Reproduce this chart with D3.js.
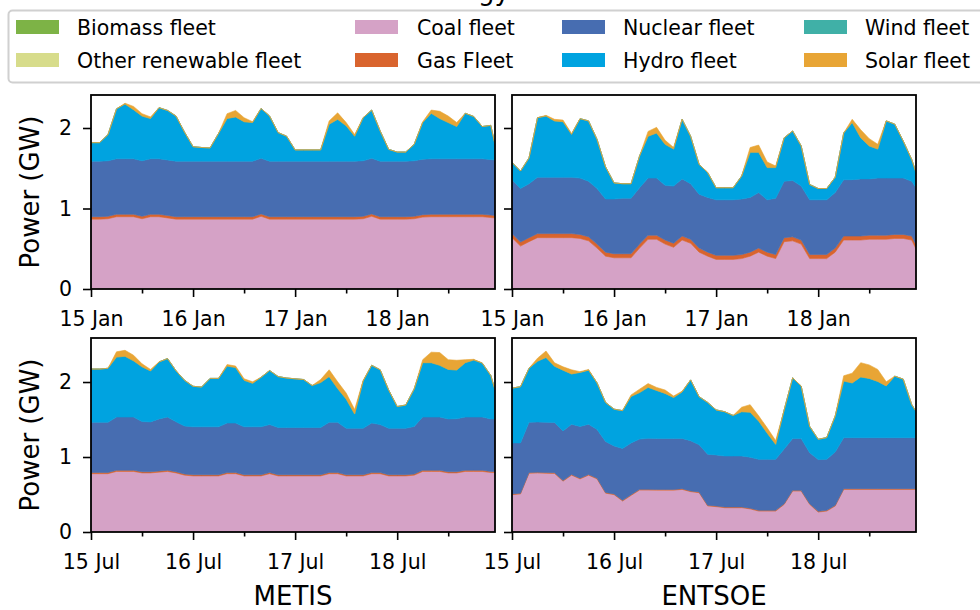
<!DOCTYPE html>
<html>
<head>
<meta charset="utf-8">
<script src="https://cdn.jsdelivr.net/npm/d3@7"></script>
<style>
  body { margin: 0; background: #fff; }
  svg text { font-family: "DejaVu Sans", sans-serif; fill: #000; }
</style>
</head>
<body>
<div id="GraphHolder"></div>
<script>
// hours since the start of each 4-day window
var hours = [0,2,4,6,8,10,12,14,16,18,20,22,
             24,26,28,30,32,34,36,38,40,42,44,46,
             48,50,52,54,56,58,60,62,64,66,68,70,
             72,74,76,78,80,82,84,86,88,90,92,94,95];

var janTicks = ["15 Jan", "16 Jan", "17 Jan", "18 Jan"];
var julTicks = ["15 Jul", "16 Jul", "17 Jul", "18 Jul"];

// fleets that are (almost) empty in every panel
var biomassAll = [0,0,0,0,0,0,0,0,0,0,0,0, 0,0,0,0,0,0,0,0,0,0,0,0, 0,0,0,0,0,0,0,0,0,0,0,0, 0,0,0,0,0,0,0,0,0,0,0,0, 0];
var otherAll = [0.008,0.008,0.008,0.008,0.008,0.008,0.008,0.008,0.008,0.008,0.008,0.008,
                0.008,0.008,0.008,0.008,0.008,0.008,0.008,0.008,0.008,0.008,0.008,0.008,
                0.008,0.008,0.008,0.008,0.008,0.008,0.008,0.008,0.008,0.008,0.008,0.008,
                0.008,0.008,0.008,0.008,0.008,0.008,0.008,0.008,0.008,0.008,0.008,0.008, 0.008];
var windAll = [0,0,0,0,0,0,0,0,0,0,0,0, 0,0,0,0,0,0,0,0,0,0,0,0, 0,0,0,0,0,0,0,0,0,0,0,0, 0,0,0,0,0,0,0,0,0,0,0,0, 0];

// METIS, January (GW)
var coalJanM = [0.86,0.86,0.865,0.89,0.89,0.89,0.865,0.89,0.89,0.875,0.86,0.86,
                0.86,0.86,0.86,0.86,0.86,0.86,0.86,0.86,0.895,0.86,0.86,0.86,
                0.86,0.86,0.86,0.86,0.86,0.86,0.86,0.86,0.865,0.895,0.86,0.86,
                0.86,0.86,0.865,0.885,0.89,0.89,0.89,0.89,0.89,0.89,0.89,0.88, 0.875];
var gasJanM = [0.03,0.03,0.03,0.03,0.03,0.03,0.03,0.03,0.03,0.03,0.03,0.03,
               0.03,0.03,0.03,0.03,0.03,0.03,0.03,0.03,0.03,0.03,0.03,0.03,
               0.03,0.03,0.03,0.03,0.03,0.03,0.03,0.03,0.03,0.03,0.03,0.03,
               0.03,0.03,0.03,0.03,0.03,0.03,0.03,0.03,0.03,0.03,0.03,0.03, 0.03];
var nuclearJanM = [0.69,0.69,0.69,0.69,0.69,0.69,0.69,0.69,0.69,0.69,0.69,0.69,
                   0.69,0.69,0.69,0.69,0.69,0.69,0.69,0.69,0.69,0.69,0.69,0.69,
                   0.69,0.69,0.69,0.69,0.69,0.69,0.69,0.69,0.69,0.69,0.69,0.69,
                   0.69,0.69,0.69,0.69,0.69,0.69,0.69,0.69,0.69,0.69,0.69,0.69, 0.69];
var hydroJanM = [0.23,0.23,0.325,0.62,0.68,0.61,0.555,0.50,0.635,0.615,0.56,0.36,
                 0.18,0.17,0.165,0.345,0.53,0.55,0.49,0.48,0.62,0.56,0.355,0.31,
                 0.14,0.14,0.14,0.14,0.46,0.52,0.44,0.31,0.535,0.60,0.375,0.147,
                 0.113,0.113,0.205,0.455,0.565,0.50,0.45,0.40,0.565,0.525,0.40,0.425, 0.195];
var solarJanM = [0,0,0,0,0.01,0.04,0.03,0.02,0,0,0,0,
                 0,0,0,0,0.06,0.08,0.05,0.01,0,0,0,0,
                 0,0,0,0,0.04,0.08,0.04,0.02,0,0,0,0,
                 0,0,0,0.01,0.04,0.09,0.08,0.05,0,0,0,0, 0];

// ENTSOE, January (GW)
var coalJanE = [0.63,0.525,0.58,0.63,0.63,0.63,0.63,0.63,0.62,0.59,0.50,0.40,
                0.38,0.38,0.38,0.50,0.61,0.61,0.55,0.51,0.60,0.56,0.45,0.40,
                0.36,0.36,0.36,0.37,0.40,0.45,0.40,0.37,0.58,0.59,0.55,0.37,
                0.37,0.37,0.45,0.60,0.60,0.60,0.61,0.61,0.61,0.62,0.62,0.60, 0.49];
var gasJanE = [0.05,0.05,0.05,0.05,0.05,0.05,0.05,0.05,0.05,0.05,0.05,0.05,
               0.05,0.05,0.05,0.05,0.05,0.05,0.05,0.05,0.05,0.05,0.05,0.05,
               0.05,0.05,0.05,0.05,0.05,0.05,0.05,0.05,0.05,0.05,0.05,0.05,
               0.05,0.05,0.05,0.05,0.05,0.05,0.05,0.05,0.05,0.05,0.05,0.05, 0.05];
var nuclearJanE = [0.67,0.665,0.67,0.70,0.70,0.70,0.70,0.70,0.70,0.69,0.69,0.66,
                   0.68,0.69,0.69,0.70,0.71,0.71,0.68,0.71,0.71,0.69,0.67,0.68,
                   0.69,0.69,0.69,0.69,0.68,0.69,0.65,0.70,0.70,0.70,0.67,0.68,
                   0.68,0.68,0.69,0.70,0.70,0.71,0.70,0.71,0.71,0.70,0.70,0.68, 0.71];
var hydroJanE = [0.215,0.217,0.32,0.74,0.76,0.70,0.69,0.533,0.738,0.75,0.61,0.40,
                 0.20,0.18,0.18,0.395,0.52,0.56,0.51,0.46,0.74,0.59,0.37,0.31,
                 0.15,0.15,0.15,0.285,0.56,0.50,0.40,0.38,0.54,0.615,0.50,0.19,
                 0.14,0.14,0.19,0.58,0.71,0.51,0.41,0.36,0.71,0.67,0.46,0.27, 0.19];
var solarJanE = [0,0,0,0,0.01,0.02,0.02,0.01,0,0,0,0,
                 0,0,0,0,0.06,0.07,0.05,0.02,0,0,0,0,
                 0,0,0,0,0.06,0.09,0.07,0.02,0,0,0,0,
                 0,0,0,0,0.04,0.10,0.09,0.06,0,0,0,0, 0];

// METIS, July (GW)
var coalJulM = [0.77,0.77,0.77,0.80,0.80,0.80,0.78,0.78,0.79,0.80,0.78,0.75,
                0.74,0.74,0.74,0.74,0.77,0.77,0.74,0.74,0.74,0.77,0.74,0.74,
                0.74,0.74,0.74,0.74,0.77,0.77,0.74,0.74,0.74,0.77,0.77,0.74,
                0.74,0.74,0.75,0.80,0.80,0.80,0.78,0.78,0.80,0.80,0.80,0.785, 0.785];
var gasJulM = [0.015,0.015,0.015,0.015,0.015,0.015,0.015,0.015,0.015,0.015,0.015,0.015,
               0.015,0.015,0.015,0.015,0.015,0.015,0.015,0.015,0.015,0.015,0.015,0.015,
               0.015,0.015,0.015,0.015,0.015,0.015,0.015,0.015,0.015,0.015,0.015,0.015,
               0.015,0.015,0.015,0.015,0.015,0.015,0.015,0.015,0.015,0.015,0.015,0.015, 0.015];
var nuclearJulM = [0.67,0.67,0.67,0.71,0.71,0.71,0.67,0.665,0.695,0.71,0.667,0.64,
                   0.64,0.64,0.64,0.64,0.66,0.66,0.64,0.64,0.64,0.64,0.63,0.63,
                   0.63,0.63,0.63,0.63,0.67,0.67,0.62,0.62,0.62,0.66,0.64,0.62,
                   0.62,0.62,0.635,0.71,0.71,0.71,0.705,0.707,0.71,0.71,0.71,0.70, 0.70];
var hydroJulM = [0.71,0.71,0.72,0.80,0.81,0.75,0.73,0.68,0.76,0.78,0.68,0.61,
                 0.54,0.53,0.645,0.645,0.76,0.74,0.62,0.58,0.66,0.72,0.68,0.66,
                 0.65,0.64,0.56,0.60,0.61,0.45,0.39,0.19,0.63,0.77,0.73,0.51,
                 0.29,0.31,0.50,0.725,0.725,0.69,0.66,0.65,0.725,0.76,0.72,0.58, 0.39];
var solarJulM = [0,0,0,0.07,0.08,0.075,0.04,0.02,0,0,0,0,
                 0,0,0,0,0.02,0.02,0.02,0.02,0,0,0,0,
                 0,0,0,0.04,0.09,0.09,0.08,0.06,0.01,0,0,0,
                 0,0,0,0.04,0.14,0.17,0.13,0.13,0.04,0.01,0,0, 0];

// ENTSOE, July (GW)
var coalJulE = [0.49,0.50,0.775,0.78,0.775,0.773,0.67,0.75,0.70,0.75,0.70,0.51,
                0.49,0.405,0.48,0.551,0.551,0.55,0.55,0.55,0.56,0.53,0.516,0.34,
                0.33,0.316,0.316,0.316,0.30,0.271,0.271,0.271,0.36,0.538,0.538,0.36,
                0.258,0.271,0.338,0.56,0.56,0.56,0.56,0.56,0.56,0.56,0.56,0.56, 0.56];
var gasJulE = [0.01,0.01,0.01,0.01,0.01,0.01,0.01,0.01,0.01,0.01,0.01,0.01,
               0.01,0.01,0.01,0.01,0.01,0.01,0.01,0.01,0.01,0.01,0.01,0.01,
               0.01,0.01,0.01,0.01,0.01,0.01,0.01,0.01,0.01,0.01,0.01,0.01,
               0.01,0.01,0.01,0.01,0.01,0.01,0.01,0.01,0.01,0.01,0.01,0.01, 0.01];
var nuclearJulE = [0.68,0.67,0.67,0.67,0.67,0.67,0.66,0.67,0.69,0.67,0.65,0.68,
                   0.64,0.69,0.69,0.67,0.68,0.68,0.68,0.68,0.67,0.67,0.63,0.68,
                   0.68,0.68,0.68,0.68,0.68,0.68,0.68,0.68,0.73,0.69,0.69,0.68,
                   0.69,0.68,0.71,0.68,0.68,0.68,0.68,0.68,0.68,0.68,0.68,0.68, 0.68];
var hydroJulE = [0.73,0.75,0.72,0.81,0.865,0.75,0.81,0.67,0.72,0.72,0.62,0.52,
                 0.49,0.505,0.62,0.62,0.68,0.64,0.60,0.545,0.62,0.81,0.64,0.69,
                 0.60,0.59,0.54,0.59,0.60,0.51,0.35,0.20,0.52,0.81,0.70,0.35,
                 0.27,0.29,0.48,0.755,0.73,0.81,0.79,0.75,0.69,0.82,0.78,0.44, 0.35];
var solarJulE = [0,0,0,0.04,0.085,0.045,0.045,0.055,0.01,0.01,0,0,
                 0,0,0.02,0.045,0.05,0.04,0.045,0.02,0.01,0,0,0,
                 0,0,0,0.06,0.10,0.07,0.07,0.05,0,0,0,0,
                 0,0,0,0.07,0.13,0.19,0.18,0.16,0.055,0,0,0, 0];

var fleetKeys = ["biomass", "other", "coal", "gas", "nuclear", "hydro", "wind", "solar"];
var fleetNames = ["Biomass fleet", "Other renewable fleet", "Coal fleet", "Gas Fleet",
                  "Nuclear fleet", "Hydro fleet", "Wind fleet", "Solar fleet"];
var fleetColors = {
    biomass: "#7db346", other: "#d7dc8b", coal: "#d5a2c6", gas: "#d9642e",
    nuclear: "#476db1", hydro: "#00a3e0", wind: "#40b0a7", solar: "#e8a535"
};

var panels = [
    {left: 91,  top: 95,  yMax: 2.41,  labels: janTicks, yLabels: true,
     series: [biomassAll, otherAll, coalJanM, gasJanM, nuclearJanM, hydroJanM, windAll, solarJanM]},
    {left: 512, top: 95,  yMax: 2.41,  labels: janTicks, yLabels: false,
     series: [biomassAll, otherAll, coalJanE, gasJanE, nuclearJanE, hydroJanE, windAll, solarJanE]},
    {left: 91,  top: 338, yMax: 2.587, labels: julTicks, yLabels: true,
     series: [biomassAll, otherAll, coalJulM, gasJulM, nuclearJulM, hydroJulM, windAll, solarJulM]},
    {left: 512, top: 338, yMax: 2.587, labels: julTicks, yLabels: false,
     series: [biomassAll, otherAll, coalJulE, gasJulE, nuclearJulE, hydroJulE, windAll, solarJulE]}
];

var pw = 404, ph = 194;
var fontSize = "20.5px";

var svg = d3.select("#GraphHolder").append("svg")
    .attr("width", 980)
    .attr("height", 610)
    .style("display", "block");

// title, cut off by the top edge (only descenders show)
svg.append("text")
    .attr("x", 510)
    .attr("y", -0.5)
    .attr("text-anchor", "end")
    .style("font-size", "26px")
    .text("Energy");

panels.forEach(function(p, pi) {
    var g = svg.append("g")
        .attr("transform", "translate(" + p.left + "," + p.top + ")");

    var x = d3.scaleLinear().domain([0, 95]).range([0, pw]);
    var y = d3.scaleLinear().domain([0, p.yMax]).range([ph, 0]);

    // build rows for the stack
    var rows = hours.map(function(h, i) {
        var r = {hour: h};
        fleetKeys.forEach(function(k, j) { r[k] = p.series[j][i]; });
        return r;
    });
    var stacked = d3.stack().keys(fleetKeys)(rows);

    g.append("clipPath")
        .attr("id", "clip" + pi)
        .append("rect")
        .attr("width", pw)
        .attr("height", ph);

    var area = d3.area()
        .x(function(d) { return x(d.data.hour); })
        .y0(function(d) { return y(d[0]); })
        .y1(function(d) { return y(d[1]); });

    g.append("g")
        .attr("clip-path", "url(#clip" + pi + ")")
        .selectAll("path")
        .data(stacked)
        .enter().append("path")
        .attr("d", area)
        .style("fill", function(d) { return fleetColors[d.key]; })
        .style("stroke", function(d) { return fleetColors[d.key]; })
        .style("stroke-width", 0.6);

    // x axis: major ticks every day, minor every 12 h
    g.append("g")
        .attr("transform", "translate(0," + ph + ")")
        .call(d3.axisBottom(x)
            .tickValues([0, 24, 48, 72])
            .tickSize(8)
            .tickPadding(14)
            .tickFormat(function(d, i) { return p.labels[i]; }));
    g.append("g")
        .attr("transform", "translate(0," + ph + ")")
        .call(d3.axisBottom(x)
            .tickValues([12, 36, 60, 84])
            .tickSize(4.5)
            .tickFormat(""));

    g.append("g")
        .call(d3.axisLeft(y)
            .tickValues([0, 1, 2])
            .tickSize(8)
            .tickPadding(11)
            .tickFormat(function(d) { return p.yLabels ? d : ""; }));

    g.selectAll(".domain").remove();
    g.selectAll(".tick line").style("stroke", "#000").style("stroke-width", 1.6);
    g.selectAll(".tick text")
        .style("font-family", "DejaVu Sans")
        .style("font-size", fontSize)
        .style("fill", "#000");

    // frame around the plot
    g.append("rect")
        .attr("width", pw)
        .attr("height", ph)
        .style("fill", "none")
        .style("stroke", "#000")
        .style("stroke-width", 1.8);

    if (p.yLabels) {
        svg.append("text")
            .attr("transform", "translate(39," + (p.top + ph / 2) + ") rotate(-90)")
            .attr("text-anchor", "middle")
            .style("font-size", "26px")
            .text("Power (GW)");
    }
});

// column titles
svg.append("text")
    .attr("x", 91 + pw / 2).attr("y", 605)
    .attr("text-anchor", "middle")
    .style("font-size", "26px")
    .text("METIS");
svg.append("text")
    .attr("x", 512 + pw / 2).attr("y", 605)
    .attr("text-anchor", "middle")
    .style("font-size", "26px")
    .text("ENTSOE");

// legend, 4 columns filled column-wise
var legend = svg.append("g");
legend.append("rect")
    .attr("x", 8.5).attr("y", 10.5)
    .attr("width", 1000).attr("height", 72)
    .attr("rx", 4)
    .style("fill", "#fff")
    .style("stroke", "#d0d0d0")
    .style("stroke-width", 2);

var swatchX = [16, 355, 562, 804];
var labelX = [77, 417, 623, 865];
var rowY = [27, 60];

fleetKeys.forEach(function(k, i) {
    var col = Math.floor(i / 2), row = i % 2;
    legend.append("rect")
        .attr("x", swatchX[col])
        .attr("y", rowY[row] - 7)
        .attr("width", 43)
        .attr("height", 14)
        .style("fill", fleetColors[k]);
    legend.append("text")
        .attr("x", labelX[col])
        .attr("y", rowY[row] + 7.5)
        .style("font-size", fontSize)
        .text(fleetNames[i]);
});
</script>
</body>
</html>
